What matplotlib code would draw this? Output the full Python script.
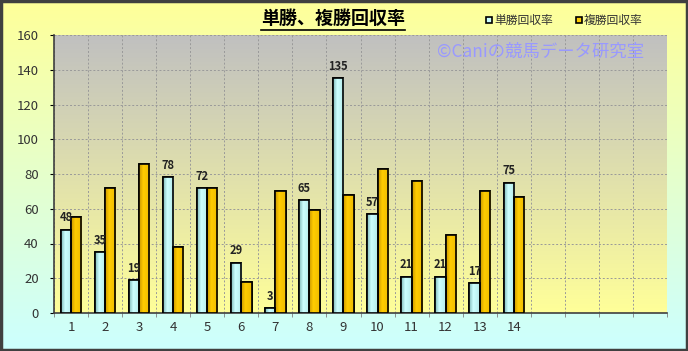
import numpy as np
import matplotlib
matplotlib.use("Agg")
from matplotlib import pyplot as plt
from matplotlib.colors import LinearSegmentedColormap
from matplotlib.patches import Rectangle

plt.rcParams['font.family'] = ['Noto Sans CJK JP', 'DejaVu Sans']

# data
categories = [str(i) for i in range(1, 15)] + ["", "", "", ""]
win_return = [48, 35, 19, 78, 72, 29, 3, 65, 135, 57, 21, 21, 17, 75]
place_return = [55, 72, 86, 38, 72, 18, 70, 59, 68, 83, 76, 45, 70, 67]
series_names = ["単勝回収率", "複勝回収率"]
title = "単勝、複勝回収率"
watermark = "©Caniの競馬データ研究室"

W, H = 688, 351
fig = plt.figure(figsize=(W / 100, H / 100), dpi=100)

# figure background gradient (yellow -> light cyan)
bg = fig.add_axes([0, 0, 1, 1], zorder=-10)
bg_cmap = LinearSegmentedColormap.from_list("bg", ["#ccffff", "#ffff99"])
bg.imshow(np.linspace(0, 1, 256).reshape(-1, 1), aspect="auto", cmap=bg_cmap,
          origin="lower", extent=[0, 1, 0, 1])
bg.set_xlim(0, 1)
bg.set_ylim(0, 1)
bg.axis("off")
bg.add_patch(Rectangle((0.0015, 0.003), 0.997, 0.994, fill=False,
                       edgecolor="#404040", linewidth=2.5,
                       transform=bg.transAxes))

left, right, top, bottom = 54, 667, 35, 313
ax = fig.add_axes([left / W, 1 - bottom / H, (right - left) / W, (bottom - top) / H])
ax.patch.set_alpha(0)

n = len(categories)
x = np.arange(n)
ax.set_xlim(-0.5, n - 0.5)
ax.set_ylim(0, 160)

# plot area gradient (light yellow -> gray)
pa_cmap = LinearSegmentedColormap.from_list("pa", ["#ffff99", "#c0c0c0"])
ax.imshow(np.linspace(0, 1, 256).reshape(-1, 1), aspect="auto", cmap=pa_cmap,
          origin="lower", extent=[-0.5, n - 0.5, 0, 160], zorder=0)

w = 0.3
xs = np.arange(len(win_return))
shade = np.concatenate([np.linspace(0, 1, 40), np.linspace(1, 0.7, 60)]).reshape(1, -1)


def shaded_bars(pos, vals, dark, light):
    cmap = LinearSegmentedColormap.from_list("s", [dark, light])
    bars = ax.bar(pos, vals, w, color=light, edgecolor="black",
                  linewidth=1.2, zorder=3)
    for b in bars:
        bx, by = b.get_x(), b.get_y()
        im = ax.imshow(shade, aspect="auto", cmap=cmap, zorder=3.1,
                       extent=[bx, bx + b.get_width(), by, by + b.get_height()])
        im.set_clip_path(b)
        edge = Rectangle((bx, by), b.get_width(), b.get_height(), fill=False,
                         edgecolor="black", linewidth=1.2, zorder=3.2)
        ax.add_patch(edge)
    return bars


shaded_bars(xs - w / 2, win_return, "#80b8b8", "#ccffff")
shaded_bars(xs + w / 2, place_return, "#c89600", "#ffcc00")
ax.set_xlim(-0.5, n - 0.5)
ax.set_ylim(0, 160)

for xi, v in zip(xs, win_return):
    ax.text(xi - w / 2, v + 3, str(v), ha="center", va="bottom",
            fontsize=8, fontweight="bold", color="#222222", zorder=4)

ax.set_yticks(range(0, 161, 20))
ax.set_xticks(x)
ax.set_xticklabels(categories)
ax.set_xticks(np.arange(-0.5, n, 1), minor=True)
ax.grid(True, which="major", axis="y", color="#999999", linestyle=(0, (2, 2)),
        linewidth=0.7, zorder=1)
ax.grid(True, which="minor", axis="x", color="#999999", linestyle=(0, (2, 2)),
        linewidth=0.7, zorder=1)
ax.tick_params(axis="x", which="major", length=0, pad=6, labelsize=9.5,
               labelcolor="#333333")
ax.tick_params(axis="x", which="minor", length=3, color="#808080")
ax.tick_params(axis="y", length=3, pad=8, labelsize=9.5, labelcolor="#333333")
ax.spines["top"].set_visible(False)
ax.spines["right"].set_visible(False)
ax.spines["left"].set_color("#404040")
ax.spines["bottom"].set_color("#404040")
ax.spines["left"].set_linewidth(1.2)
ax.spines["bottom"].set_linewidth(1.2)

# title with underline
fig.text(333 / W, 1 - 18 / H, title, ha="center", va="center", fontsize=13,
         fontweight="bold", color="black")
bg.plot([261 / W, 405 / W], [1 - 30 / H, 1 - 30 / H], color="black",
        linewidth=1.2)

# legend
for sx, name, col in [(486, series_names[0], "#ccffff"),
                      (576, series_names[1], "#ffcc00")]:
    bg.add_patch(Rectangle((sx / W, 1 - 23 / H), 6 / W, 6 / H,
                           facecolor=col, edgecolor="black", linewidth=1.2))
    fig.text((sx + 8) / W, 1 - 20 / H, name, ha="left", va="center",
             fontsize=8.5, color="#333333")

# watermark
fig.text(541 / W, 1 - 52 / H, watermark, ha="center", va="center",
         fontsize=12.5, color="#9999ff", zorder=5)

plt.savefig("out.png", dpi=100)
